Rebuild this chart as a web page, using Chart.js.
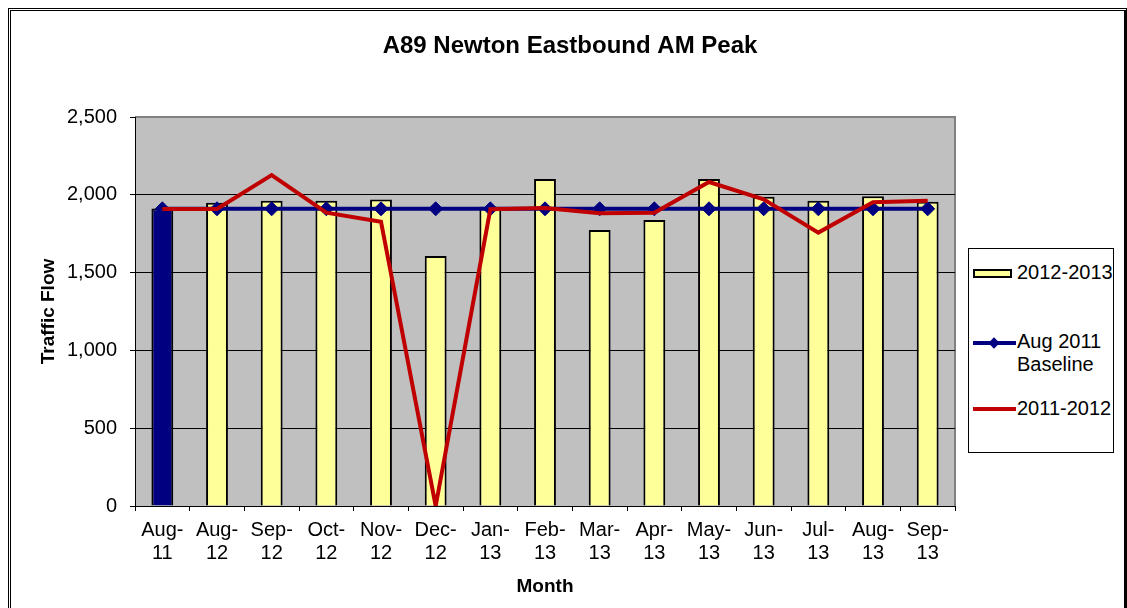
<!DOCTYPE html>
<html>
<head>
<meta charset="utf-8">
<script src="https://cdn.jsdelivr.net/npm/chart.js@4"></script>
<style>
    body { margin: 0; background: #fff; overflow: hidden; }
    #wrap { position: relative; width: 1127px; height: 608px; font-family: "Liberation Sans", Arial, sans-serif; }
    #marco { position: absolute; left: 8px; top: 8px; width: 1119px; height: 640px; box-sizing: border-box; border: 3px double #000; border-right: 3px solid #000; }
    #grafica { position: absolute; left: 0; top: 0; }
    #leyenda { position: absolute; left: 968px; top: 248px; width: 146px; height: 205px; box-sizing: border-box; border: 1px solid #000; background: #fff; }
    .txt { position: absolute; left: 48px; font-size: 20px; line-height: 23px; color: #000; white-space: nowrap; }
    .caja { position: absolute; left: 4px; width: 39px; height: 9px; box-sizing: border-box; border: 2px solid #000; background: #FFFF99; }
    .linea { position: absolute; left: 4px; width: 43px; height: 4px; }
    .rombo { position: absolute; left: 21px; width: 8px; height: 8px; background: #000080; transform: rotate(45deg); }
</style>
</head>
<body>
<div id="wrap">
    <div id="marco"></div>
    <canvas id="grafica" width="1127" height="608"></canvas>
    <div id="leyenda">
        <div class="caja" style="top:20px"></div>
        <div class="txt" style="top:12px">2012-2013</div>
        <div class="linea" style="top:92px;background:#000080"></div>
        <div class="rombo" style="top:90px"></div>
        <div class="txt" style="top:81px">Aug 2011<br>Baseline</div>
        <div class="linea" style="top:158px;background:#C00000"></div>
        <div class="txt" style="top:148px">2011-2012</div>
    </div>
</div>
<script>
// Datos
const meses = [['Aug-', '11'], ['Aug-', '12'], ['Sep-', '12'], ['Oct-', '12'], ['Nov-', '12'], ['Dec-', '12'],
    ['Jan-', '13'], ['Feb-', '13'], ['Mar-', '13'], ['Apr-', '13'], ['May-', '13'], ['Jun-', '13'],
    ['Jul-', '13'], ['Aug-', '13'], ['Sep-', '13']];
const flujo2012_2013 = [1912, 1949, 1962, 1962, 1969, 1607, 1924, 2101, 1774, 1838, 2101, 1988, 1962, 1991, 1956];
const baselineAgo2011 = [1910, 1910, 1910, 1910, 1910, 1910, 1910, 1910, 1910, 1910, 1910, 1910, 1910, 1910, 1910];
const flujo2011_2012 = [1909, 1909, 2127, 1885, 1827, 0, 1907, 1915, 1881, 1885, 2082, 1971, 1757, 1952, 1962];
const ticksY = [0, 500, 1000, 1500, 2000, 2500];

// Colores de las barras: la primera (Aug-11) va en azul oscuro
const coloresBarras = flujo2012_2013.map((v, i) => i === 0 ? '#000080' : '#FFFF99');

const fuente = '"Liberation Sans", Arial, sans-serif';

// Fondo gris del area de trazado
const fondoPlot = {
    id: 'fondoPlot',
    beforeDraw(chart) {
        const a = chart.chartArea;
        const ctx = chart.ctx;
        ctx.save();
        ctx.fillStyle = '#C0C0C0';
        ctx.fillRect(a.left, a.top, a.right - a.left, a.bottom - a.top);
        ctx.strokeStyle = '#808080';
        ctx.lineWidth = 2;
        ctx.beginPath();
        ctx.moveTo(a.left, a.top);
        ctx.lineTo(a.right, a.top);
        ctx.lineTo(a.right, a.bottom);
        ctx.stroke();
        ctx.restore();
    }
};

const ctx = document.getElementById('grafica').getContext('2d');
new Chart(ctx, {
    data: {
        labels: meses,
        datasets: [
            {
                type: 'line',
                label: '2011-2012',
                data: flujo2011_2012,
                borderColor: '#C00000',
                borderWidth: 4,
                pointRadius: 0,
                tension: 0,
                order: 0
            },
            {
                type: 'line',
                label: 'Aug 2011 Baseline',
                data: baselineAgo2011,
                borderColor: '#000080',
                backgroundColor: '#000080',
                borderWidth: 4,
                pointStyle: 'rectRot',
                pointRadius: 7,
                pointBorderWidth: 1,
                tension: 0,
                order: 1
            },
            {
                type: 'bar',
                label: '2012-2013',
                data: flujo2012_2013,
                backgroundColor: coloresBarras,
                borderColor: '#000',
                borderWidth: 2,
                barPercentage: 0.4,
                categoryPercentage: 1,
                order: 2
            }
        ]
    },
    options: {
        responsive: false,
        animation: false,
        devicePixelRatio: 1,
        layout: { padding: { left: 13, right: 0, top: 0, bottom: 0 } },
        plugins: {
            legend: { display: false },
            tooltip: { enabled: false },
            title: {
                display: true,
                text: 'A89 Newton Eastbound AM Peak',
                color: '#000',
                font: { family: fuente, size: 24, weight: 'bold' },
                padding: { top: 31.6, bottom: 56.6 }
            }
        },
        scales: {
            x: {
                offset: true,
                grid: { drawOnChartArea: false, drawTicks: true, tickLength: 5, color: '#000', offset: true },
                border: { color: '#000', width: 1 },
                ticks: { color: '#000', padding: 7.5, maxRotation: 0, autoSkip: false, font: { family: fuente, size: 20, lineHeight: 1.15 } },
                title: { display: true, text: 'Month', color: '#000', font: { family: fuente, size: 19, weight: 'bold' }, padding: { top: 0, bottom: 10 } },
                afterFit: s => { s.height = 102; }
            },
            y: {
                position: 'left',
                min: 0,
                max: 2500,
                afterBuildTicks: s => { s.ticks = ticksY.map(v => ({ value: v })); },
                grid: {
                    color: c => c.tick && c.tick.value === 2500 ? '#808080' : '#000',
                    tickColor: '#000',
                    tickLength: 5,
                    lineWidth: 1
                },
                border: { color: '#000', width: 1 },
                ticks: {
                    color: '#000',
                    padding: 13,
                    font: { family: fuente, size: 20 },
                    callback: v => v.toLocaleString('en-US')
                },
                title: { display: true, text: 'Traffic Flow', color: '#000', font: { family: fuente, size: 19, weight: 'bold' }, padding: { top: 24.6, bottom: 0 } },
                afterFit: s => { s.width = 122; }
            },
            derecha: {
                position: 'right',
                display: true,
                min: 0,
                max: 1,
                grid: { display: false, drawTicks: false },
                border: { display: false },
                ticks: { display: false },
                afterFit: s => { s.width = 172; }
            }
        }
    },
    plugins: [fondoPlot]
});
</script>
</body>
</html>
